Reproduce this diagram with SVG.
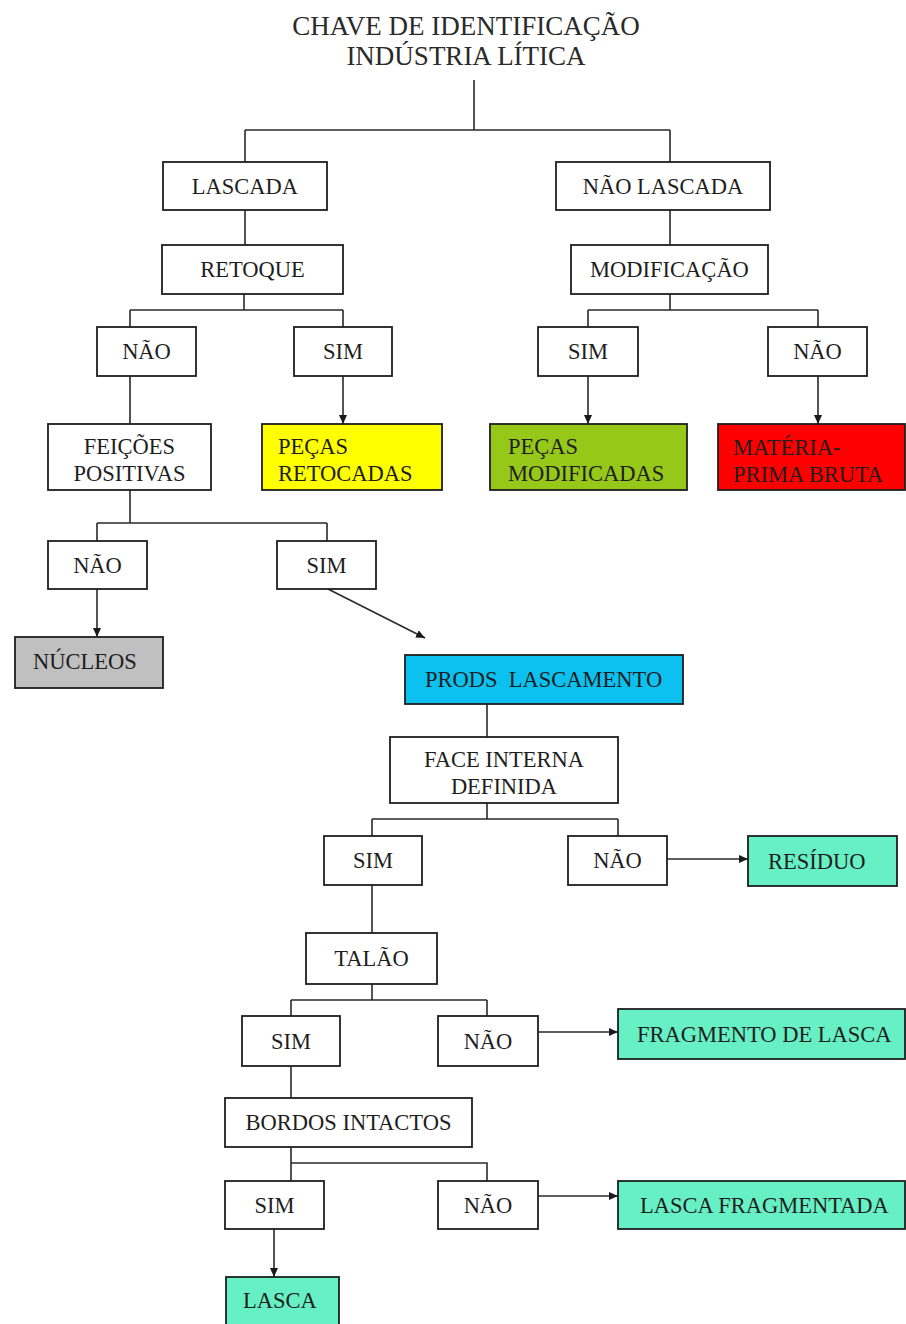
<svg xmlns="http://www.w3.org/2000/svg" width="906" height="1324" viewBox="0 0 906 1324" font-family="'Liberation Serif', 'DejaVu Serif', serif">
<style>
text{font-family:'Liberation Serif','DejaVu Serif',serif;font-size:22.5px;fill:#1e1e1e}
.t{font-size:27px;text-anchor:middle;fill:#2a2a2a}
.c{text-anchor:middle}
.box{fill:#fff;stroke:#1e1e1e;stroke-width:1.8}
.cb{stroke:#1e1e1e;stroke-width:1.8}
.ln{fill:none;stroke:#2a2a2a;stroke-width:1.6}
.ar{fill:none;stroke:#2a2a2a;stroke-width:1.6;marker-end:url(#ah)}
</style>
<defs>
<marker id="ah" markerWidth="9" markerHeight="8" refX="9" refY="4" orient="auto" markerUnits="userSpaceOnUse">
<path d="M0,0 L9,4 L0,8 Z" fill="#1a1a1a"/>
</marker>
</defs>
<rect width="906" height="1324" fill="#fff"/>
<g id="title">
<text class="t" x="466" y="35">CHAVE DE IDENTIFICAÇÃO</text>
<text class="t" x="466" y="65">INDÚSTRIA LÍTICA</text>
</g>
<g id="connectors">
<path class="ln" d="M474,80 V130 M245,130 H670 M245,130 V162 M670,130 V162"/>
<path class="ln" d="M245,210 V245 M670,210 V245"/>
<path class="ln" d="M244,294 V310 M130,310 H343 M130,310 V327 M343,310 V327"/>
<path class="ln" d="M670,294 V310 M588,310 H818 M588,310 V327 M818,310 V327"/>
<path class="ln" d="M130,376 V424"/>
<path class="ar" d="M343,376 V424"/>
<path class="ar" d="M588,376 V424"/>
<path class="ar" d="M818,376 V424"/>
<path class="ln" d="M130,490 V523 M97,523 H327 M97,523 V541 M327,523 V541"/>
<path class="ar" d="M97,589 V637"/>
<path class="ar" d="M328,589 L425,638"/>
<path class="ln" d="M487,704 V737"/>
<path class="ln" d="M487,803 V819 M372,819 H618 M372,819 V836 M618,819 V836"/>
<path class="ar" d="M667,859 H748"/>
<path class="ln" d="M372,885 V933"/>
<path class="ln" d="M372,984 V1000 M291,1000 H487 M291,1000 V1016 M487,1000 V1016"/>
<path class="ar" d="M538,1032 H618"/>
<path class="ln" d="M291,1066 V1098"/>
<path class="ln" d="M291,1147 V1163 H487 V1181 M291,1163 V1181"/>
<path class="ar" d="M538,1196 H618"/>
<path class="ar" d="M274,1229 V1277"/>
</g>
<g id="lascada"><rect class="box" x="163" y="162" width="164" height="48"/><text class="c" x="245" y="193.5">LASCADA</text></g>
<g id="nao-lascada"><rect class="box" x="556" y="162" width="214" height="48"/><text class="c" x="663" y="193.5">NÃO LASCADA</text></g>
<g id="retoque"><rect class="box" x="162" y="245" width="181" height="49"/><text class="c" x="252.5" y="277">RETOQUE</text></g>
<g id="modificacao"><rect class="box" x="571" y="245" width="197" height="49"/><text class="c" x="669.5" y="277">MODIFICAÇÃO</text></g>
<g id="retoque-nao"><rect class="box" x="97" y="327" width="99" height="49"/><text class="c" x="146.5" y="359">NÃO</text></g>
<g id="retoque-sim"><rect class="box" x="294" y="327" width="98" height="49"/><text class="c" x="343" y="359">SIM</text></g>
<g id="modif-sim"><rect class="box" x="538" y="327" width="100" height="49"/><text class="c" x="588" y="359">SIM</text></g>
<g id="modif-nao"><rect class="box" x="768" y="327" width="99" height="49"/><text class="c" x="817.5" y="359">NÃO</text></g>
<g id="feicoes"><rect class="box" x="48" y="424" width="163" height="66"/><text class="c" x="129.5" y="454">FEIÇÕES</text><text class="c" x="129.5" y="481">POSITIVAS</text></g>
<g id="pecas-retocadas"><rect class="cb" x="262" y="424" width="180" height="66" fill="#ffff00"/><text x="278" y="454" fill="#2a2a00">PEÇAS</text><text x="278" y="481" fill="#2a2a00">RETOCADAS</text></g>
<g id="pecas-modificadas"><rect class="cb" x="490" y="424" width="197" height="66" fill="#96c81a"/><text x="508" y="454" fill="#1f2a05">PEÇAS</text><text x="508" y="481" fill="#1f2a05">MODIFICADAS</text></g>
<g id="materia-prima"><rect class="cb" x="718" y="424" width="187" height="66" fill="#ff0000"/><text x="733" y="455" fill="#a00000">MATÉRIA-</text><text x="733" y="482" fill="#a00000">PRIMA BRUTA</text></g>
<g id="feicoes-nao"><rect class="box" x="48" y="541" width="99" height="48"/><text class="c" x="97.5" y="572.5">NÃO</text></g>
<g id="feicoes-sim"><rect class="box" x="277" y="541" width="99" height="48"/><text class="c" x="326.5" y="572.5">SIM</text></g>
<g id="nucleos"><rect class="cb" x="15" y="637" width="148" height="51" fill="#c0c0c0"/><text x="33" y="669">NÚCLEOS</text></g>
<g id="prods"><rect class="cb" x="405" y="655" width="278" height="49" fill="#0cc0f0"/><text x="425" y="687" fill="#1b3f66" style="white-space:pre">PRODS  LASCAMENTO</text></g>
<g id="face-interna"><rect class="box" x="390" y="737" width="228" height="66"/><text class="c" x="504" y="767">FACE INTERNA</text><text class="c" x="504" y="794">DEFINIDA</text></g>
<g id="face-sim"><rect class="box" x="324" y="836" width="98" height="49"/><text class="c" x="373" y="868">SIM</text></g>
<g id="face-nao"><rect class="box" x="568" y="836" width="99" height="49"/><text class="c" x="617.5" y="868">NÃO</text></g>
<g id="residuo"><rect class="cb" x="748" y="836" width="149" height="50" fill="#66f0c4"/><text x="768" y="868.5" fill="#0f3d2a">RESÍDUO</text></g>
<g id="talao"><rect class="box" x="306" y="933" width="131" height="51"/><text class="c" x="371.5" y="966">TALÃO</text></g>
<g id="talao-sim"><rect class="box" x="242" y="1016" width="98" height="50"/><text class="c" x="291" y="1048.5">SIM</text></g>
<g id="talao-nao"><rect class="box" x="438" y="1016" width="100" height="50"/><text class="c" x="488" y="1048.5">NÃO</text></g>
<g id="fragmento"><rect class="cb" x="618" y="1009" width="287" height="50" fill="#66f0c4"/><text x="637" y="1041.5" fill="#0f3d2a">FRAGMENTO DE LASCA</text></g>
<g id="bordos"><rect class="box" x="225" y="1098" width="247" height="49"/><text class="c" x="348.5" y="1130">BORDOS INTACTOS</text></g>
<g id="bordos-sim"><rect class="box" x="225" y="1181" width="99" height="48"/><text class="c" x="274.5" y="1212.5">SIM</text></g>
<g id="bordos-nao"><rect class="box" x="438" y="1181" width="100" height="48"/><text class="c" x="488" y="1212.5">NÃO</text></g>
<g id="lasca-fragmentada"><rect class="cb" x="618" y="1181" width="287" height="48" fill="#66f0c4"/><text x="640" y="1212.5" fill="#0f3d2a">LASCA FRAGMENTADA</text></g>
<g id="lasca"><rect class="cb" x="226" y="1277" width="113" height="52" fill="#66f0c4"/><text x="243" y="1308" fill="#0f3d2a">LASCA</text></g>
</svg>
